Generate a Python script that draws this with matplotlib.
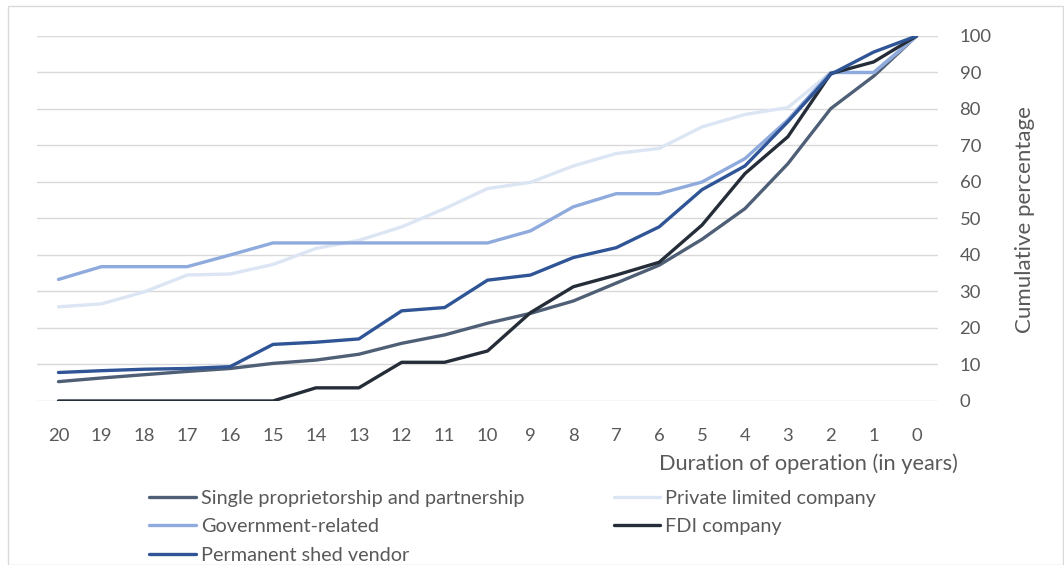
import matplotlib
matplotlib.use("Agg")
import matplotlib.pyplot as plt
from matplotlib.patches import Rectangle

# Years of operation, counted down from 20 to 0
years = list(range(20, -1, -1))

single_prop = [5.3, 6.3, 7.2, 8.1, 8.9, 10.3, 11.2, 12.8, 15.8, 18.1, 21.3,
               24.0, 27.4, 32.3, 37.2, 44.3, 52.7, 65.0, 80.1, 89.0, 100]
private_ltd = [25.8, 26.6, 29.9, 34.5, 34.8, 37.4, 41.8, 44.0, 47.7, 52.7, 58.2,
               59.9, 64.4, 67.8, 69.2, 75.1, 78.5, 80.4, 90.0, 90.0, 100]
government = [33.3, 36.8, 36.8, 36.8, 40.0, 43.3, 43.3, 43.3, 43.3, 43.3, 43.3,
              46.6, 53.2, 56.8, 56.8, 60.0, 66.4, 77.0, 90.0, 90.0, 100]
fdi = [0, 0, 0, 0, 0, 0, 3.6, 3.6, 10.6, 10.6, 13.7,
       24.2, 31.3, 34.5, 38.0, 48.2, 62.3, 72.4, 89.7, 92.9, 100]
shed_vendor = [7.8, 8.3, 8.7, 8.9, 9.4, 15.5, 16.1, 17.0, 24.7, 25.6, 33.1,
               34.5, 39.3, 42.0, 47.7, 57.9, 64.4, 76.5, 89.5, 95.6, 100]

series = [
    ("Single proprietorship and partnership", single_prop, "#4f5f76"),
    ("Private limited company", private_ltd, "#dce5f4"),
    ("Government-related", government, "#8faadc"),
    ("FDI company", fdi, "#252d38"),
    ("Permanent shed vendor", shed_vendor, "#2f5597"),
]

text_color = "#595959"
font = ["Lato", "DejaVu Sans"]

fig = plt.figure(figsize=(10.64, 5.65), dpi=100)
ax = fig.add_axes([0.0348, 0.2903, 0.8468, 0.646])

for name, vals, color in series:
    ax.plot(years, vals, color=color, linewidth=2.4, label=name,
            solid_capstyle="round", solid_joinstyle="round")

ax.set_xlim(20.5, -0.5)
ax.set_ylim(0, 100)
ax.set_xticks(years)
ax.set_yticks(range(0, 101, 10))
ax.yaxis.tick_right()
ax.grid(axis="y", color="#d9d9d9", linewidth=1.0)
ax.set_axisbelow(True)
for s in ax.spines.values():
    s.set_visible(False)
ax.tick_params(axis="both", length=0, colors=text_color, labelsize=13.3)
ax.tick_params(axis="x", pad=19.5)
ax.tick_params(axis="y", pad=15.5)
for lbl in ax.get_xticklabels() + ax.get_yticklabels():
    lbl.set_family(font)

# Axis titles
fig.text(1025 / 1064, 1 - 220 / 565, "Cumulative percentage", rotation=90,
         ha="center", va="center", color=text_color, fontsize=16, family=font)
fig.text(958 / 1064, 1 - 464 / 565, "Duration of operation (in years)",
         ha="right", va="center", color=text_color, fontsize=15.7, family=font)

# Legend laid out in two columns below the plot
handles, labels = ax.get_legend_handles_labels()
order = [0, 2, 4, 1, 3]
leg = fig.legend([handles[i] for i in order], [labels[i] for i in order],
                 ncol=2, loc="upper left", bbox_to_anchor=(131 / 1064, 1 - 472 / 565),
                 frameon=False, handlelength=2.36, handletextpad=0.25,
                 columnspacing=4.5, labelspacing=0.57,
                 prop={"family": font, "size": 14.3})
for t in leg.get_texts():
    t.set_color(text_color)

# Chart area border
fig.patches.append(Rectangle((8 / 1064, 0), 1055 / 1064, 1 - 6 / 565,
                             transform=fig.transFigure, fill=False,
                             edgecolor="#d9d9d9", linewidth=1.0))

fig.savefig("out.png", dpi=100)
